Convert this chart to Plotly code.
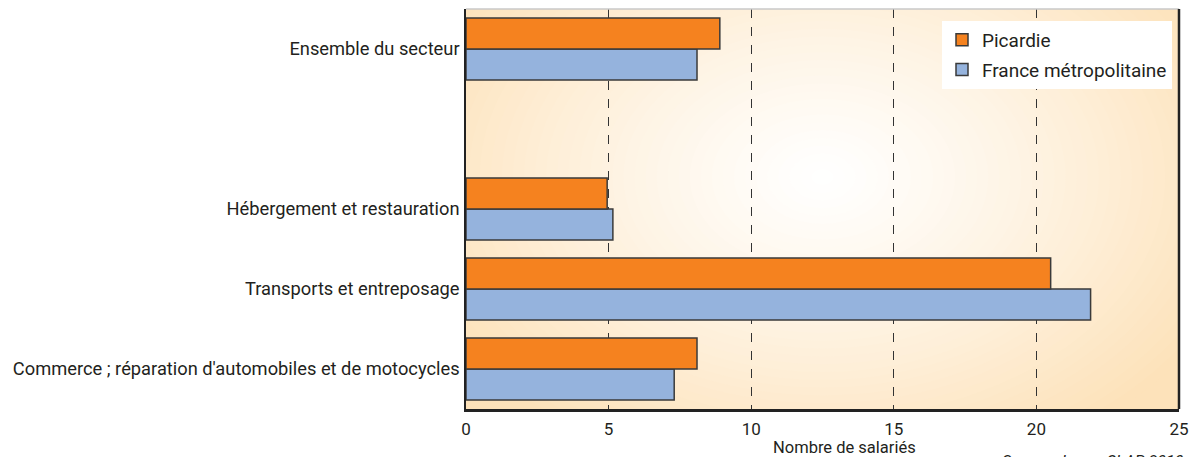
import plotly.graph_objects as go

categories = [
    "Commerce ; réparation d'automobiles et de motocycles",
    "Transports et entreposage",
    "Hébergement et restauration",
    " ",
    "Ensemble du secteur",
]
picardie = [8.1, 20.5, 4.95, None, 8.9]
france = [7.3, 21.9, 5.15, None, 8.1]
series_names = ["Picardie", "France métropolitaine"]
x_ticks = [0, 5, 10, 15, 20, 25]

FONT = "'Liberation Sans Narrow', 'Arial Narrow', 'Roboto', sans-serif"
ORANGE = "#F5821F"
BLUE = "#95B3DD"
EDGE = "#3a3a3a"

# plot area in pixels (figure is 1191 x 457)
L, T, R, B = 466, 9, 1179, 409
PW, PH = R - L, B - T


def px(x):
    return (x - L) / PW


def py(y):
    return (B - y) / PH


fig = go.Figure()
fig.add_trace(go.Bar(y=categories, x=france, orientation="h", name=series_names[1],
                     legendgroup="b", legendrank=2,
                     marker=dict(color=BLUE, line=dict(color=EDGE, width=1.5))))
fig.add_trace(go.Bar(y=categories, x=picardie, orientation="h", name=series_names[0],
                     legendgroup="a", legendrank=1,
                     marker=dict(color=ORANGE, line=dict(color=EDGE, width=1.5))))

# radial background gradient (style only)
edge_rgb = (253, 226, 186)
n = 40
cx, cy = 12.5, 2.4
rx, ry = 15.5, 3.9
shapes = []
for i in range(n):
    f = 1 - i / n  # 1 -> outer
    t = f ** 1.2
    col = tuple(int(round(255 + (e - 255) * t)) for e in edge_rgb)
    shapes.append(dict(type="circle", xref="x", yref="y",
                       x0=cx - rx * f, x1=cx + rx * f, y0=cy - ry * f, y1=cy + ry * f,
                       fillcolor="rgb(%d,%d,%d)" % col, line=dict(width=0), layer="below"))
# frame
shapes.append(dict(type="line", xref="x domain", yref="y domain", x0=0, x1=1, y0=1, y1=1,
                   line=dict(color="#c8c8c8", width=1.5), layer="above"))
shapes.append(dict(type="line", xref="x domain", yref="y domain", x0=1, x1=1, y0=0, y1=1,
                   line=dict(color="#222", width=2.5), layer="above"))

fig.update_layout(
    width=1191, height=457,
    margin=dict(l=L, r=1191 - R, t=T, b=457 - B, autoexpand=False),
    paper_bgcolor="white",
    plot_bgcolor="rgb(%d,%d,%d)" % edge_rgb,
    barmode="group", bargap=0.225, bargroupgap=0,
    font=dict(family=FONT, size=17, color="#231f20"),
    showlegend=True,
    legend=dict(x=px(1172), y=py(21), xanchor="right", yanchor="top", bgcolor="white",
                traceorder="grouped", tracegroupgap=2,
                font=dict(size=19), borderwidth=0),
    shapes=shapes,
    annotations=[
        dict(text="Nombre de salariés", xref="paper", yref="paper", x=px(844),
             y=py(448), xanchor="center", yanchor="middle", showarrow=False,
             font=dict(size=16.5)),
        dict(text="<i>Source : Insee, CLAP 2010</i>", xref="paper", yref="paper",
             x=px(1186), y=py(450), xanchor="right", yanchor="top", showarrow=False,
             font=dict(size=16)),
    ],
)
fig.update_xaxes(range=[0, 25], tickvals=x_ticks, showgrid=True, gridcolor="#333",
                 griddash="dash", gridwidth=1.3, showline=True, linecolor="#222", linewidth=2.5,
                 zeroline=False, ticks="", tickfont=dict(size=17), ticklabelstandoff=3,
                 automargin=False)
fig.update_yaxes(categoryorder="array", categoryarray=categories, showgrid=False,
                 range=[-0.5, 4.5],
                 showline=True, linecolor="#222", linewidth=1.5, ticks="", ticklabelstandoff=1,
                 tickfont=dict(size=18.3), automargin=False)

fig.write_html("out.html", config={"displayModeBar": False},
               post_script="document.body.style.margin='0';")
